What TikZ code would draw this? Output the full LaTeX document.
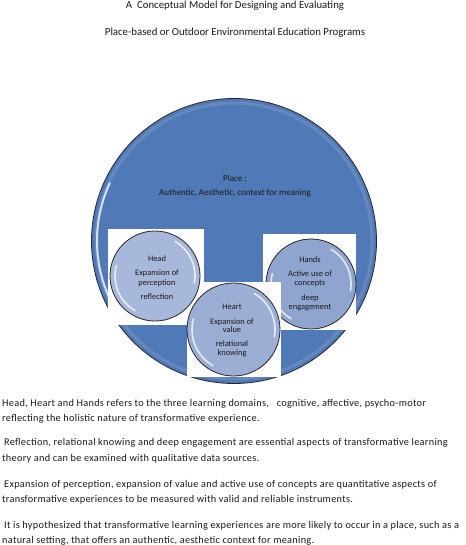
\documentclass[tikz,border=0pt]{standalone}
\usepackage{fontspec}
\setmainfont{Carlito}
\newfontfamily\bodyspaced[LetterSpace=2.8]{Carlito}
\definecolor{placeblue}{HTML}{5079B7}
\definecolor{headfill}{HTML}{A8B8DA}
\definecolor{heartfill}{HTML}{9DAED5}
\definecolor{handsfill}{HTML}{8FA5D0}
\definecolor{txt}{HTML}{1A1A1A}
\tikzset{
  titletext/.style={font=\fontsize{10.8}{12}\selectfont, text=txt, inner sep=0pt, anchor=base},
  bodyline/.style={font=\bodyspaced\fontsize{10.3}{12}\selectfont, text=txt, inner sep=0pt, anchor=base west},
  placetext/.style={font=\fontsize{9}{10}\selectfont, text=txt, inner sep=0pt, anchor=base},
  smalltext/.style={font=\fontsize{8.4}{9.5}\selectfont, text=txt, inner sep=0pt, anchor=base},
  whitebox/.style={fill=white, draw=none},
  glass/.style={draw=black!85, line width=0.8pt},
  shine/.style={white, line width=1.6pt, opacity=0.75, line cap=round},
}
\begin{document}
\begin{tikzpicture}[x=1pt,y=-1pt]
\useasboundingbox (0,0) rectangle (465,545);
\fill[white] (0,0) rectangle (465,545);

% title
\node[titletext] (t1) at (235,8.5) {A\ \ Conceptual Model for Designing and Evaluating};
\node[titletext] (t2) at (235,35.5) {Place-based or Outdoor Environmental Education Programs};

% big place circle
\fill[placeblue] (234,241) circle (142.5);
\draw[black!85, line width=0.8pt] (234,241) circle (142.5);
\draw[white, opacity=0.12, line width=3pt] (234,241) circle (138);
\draw[shine, line width=2pt] (234,241) ++(150:137) arc (150:205:137);
\node[placetext] (place) at (235,182) {Place :};
\node[placetext] (placedesc) at (235,195.5) {Authentic, Aesthetic, context for meaning};

% hands
\fill[whitebox] (263,234) rectangle (356,330);
\fill[handsfill] (311,284) circle (45);
\draw[glass] (311,284) circle (45);
\draw[shine] (311,284) ++(120:40) arc (120:195:40);
\draw[shine] (311,284) ++(-60:40) arc (-60:10:40);
\node[smalltext] (hands) at (310,262) {Hands};
\node[smalltext] (hands2) at (310,276) {Active use of};
\node[smalltext] (hands3) at (310,285.5) {concepts};
\node[smalltext] (hands4) at (310,300) {deep};
\node[smalltext] (hands5) at (310,309.5) {engagement};

% heart rect, head rect
\fill[whitebox] (187,282) rectangle (281,377);
\fill[whitebox] (108,229) rectangle (204,325);

% head
\fill[headfill] (155,276) circle (45);
\draw[glass] (155,276) circle (45);
\draw[shine] (155,276) ++(120:40) arc (120:195:40);
\draw[shine] (155,276) ++(-60:40) arc (-60:10:40);
\node[smalltext] (head) at (157,261) {Head};
\node[smalltext] (head2) at (157,275) {Expansion of};
\node[smalltext] (head3) at (157,285) {perception};
\node[smalltext] (head4) at (157,299) {reflection};

% heart
\fill[heartfill] (233.5,329.5) circle (46.5);
\draw[glass] (233.5,329.5) circle (46.5);
\draw[shine] (233.5,329.5) ++(120:41.5) arc (120:195:41.5);
\draw[shine] (233.5,329.5) ++(-60:41.5) arc (-60:10:41.5);
\node[smalltext] (heart) at (232,309) {Heart};
\node[smalltext] (heart2) at (232,324) {Expansion of};
\node[smalltext] (heart3) at (232,332.5) {value};
\node[smalltext] (heart4) at (232,346) {relational};
\node[smalltext] (heart5) at (232,355) {knowing};

% body text
\node[bodyline] (b1) at (2,406) {Head, Heart and Hands refers to the three learning domains,\ \ \ cognitive, affective, psycho-motor};
\node[bodyline] (b2) at (2,421) {reflecting the holistic nature of transformative experience.};
\node[bodyline] (b3) at (4,445.5) {Reflection, relational knowing and deep engagement are essential aspects of transformative learning};
\node[bodyline] (b4) at (2,461) {theory and can be examined with qualitative data sources.};
\node[bodyline] (b5) at (4,487) {Expansion of perception, expansion of value and active use of concepts are quantitative aspects of};
\node[bodyline] (b6) at (2,502) {transformative experiences to be measured with valid and reliable instruments.};
\node[bodyline] (b7) at (4,528) {It is hypothesized that transformative learning experiences are more likely to occur in a place, such as a};
\node[bodyline] (b8) at (2,543) {natural setting, that offers an authentic, aesthetic context for meaning.};
\end{tikzpicture}
\end{document}
